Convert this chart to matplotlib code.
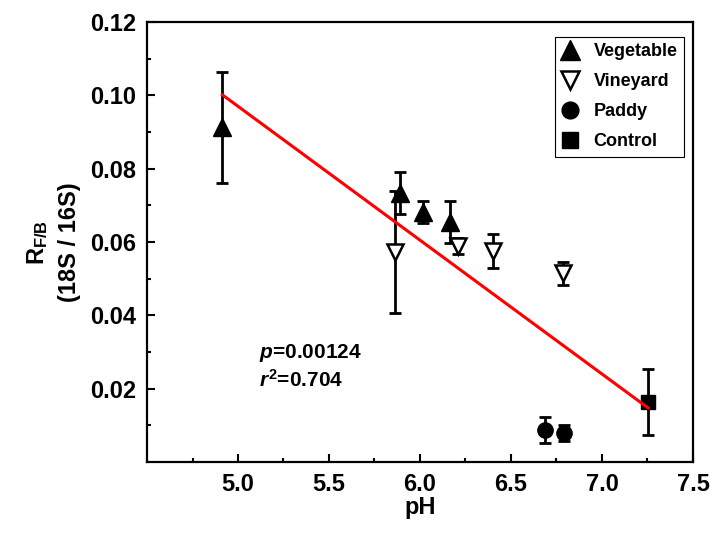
import numpy as np
import matplotlib
matplotlib.use('Agg')
import matplotlib.pyplot as plt

plt.rcParams['font.family'] = ['Liberation Sans', 'DejaVu Sans']
plt.rcParams['font.weight'] = 'bold'
plt.rcParams['mathtext.fontset'] = 'custom'
plt.rcParams['mathtext.rm'] = 'Liberation Sans:bold'
plt.rcParams['mathtext.bf'] = 'Liberation Sans:bold'
plt.rcParams['mathtext.it'] = 'Liberation Sans:bold:italic'
plt.rcParams['mathtext.default'] = 'bf'

# datos
veg_ph = [4.914, 5.89, 6.016, 6.165]
veg_r = [0.0913, 0.0734, 0.0682, 0.0655]
veg_err = [0.0151, 0.0058, 0.0031, 0.0057]

vin_ph = [5.863, 6.21, 6.40, 6.786]
vin_r = [0.0572, 0.0589, 0.0575, 0.0515]
vin_err = [0.0166, 0.0022, 0.0047, 0.0031]

pad_ph = [6.687, 6.79]
pad_r = [0.0087, 0.0079]
pad_err = [0.0035, 0.0023]

ctl_ph = [7.253]
ctl_r = [0.0164]
ctl_err = [0.0091]

# recta de ajuste
fit_x = [4.914, 7.253]
fit_slope = -0.0365
fit_intercept = 0.2795

fig = plt.figure(figsize=(7.15, 5.4), dpi=100)
ax = fig.add_axes([0.2056, 0.1444, 0.7636, 0.8149])

eb_kw = dict(fmt='none', ecolor='black', elinewidth=2, capsize=4, capthick=2)
ax.errorbar(veg_ph, veg_r, yerr=veg_err, **eb_kw)
ax.errorbar(vin_ph, vin_r, yerr=vin_err, **eb_kw)
ax.errorbar(pad_ph, pad_r, yerr=pad_err, **eb_kw)
ax.errorbar(ctl_ph, ctl_r, yerr=ctl_err, **eb_kw)

ax.plot(veg_ph, veg_r, '^', color='black', markersize=13, linestyle='none', label='Vegetable')
ax.plot(vin_ph, vin_r, 'v', markerfacecolor='white', markeredgecolor='black', markeredgewidth=1.8,
        markersize=12, linestyle='none', label='Vineyard')
ax.plot(pad_ph, pad_r, 'o', color='black', markersize=11, linestyle='none', label='Paddy')
ax.plot(ctl_ph, ctl_r, 's', color='black', markersize=10.5, linestyle='none', label='Control')

fx = np.array(fit_x)
ax.plot(fx, fit_slope * fx + fit_intercept, color='red', linewidth=2.2, zorder=5)

ax.text(5.115, 0.0297, r'$\mathit{p}$=0.00124', fontsize=15, fontweight='bold', va='center')
ax.text(5.115, 0.0224, r'$\mathit{r}^{\mathbf{2}}$=0.704', fontsize=15, fontweight='bold', va='center')

ax.set_xlim(4.5, 7.5)
ax.set_ylim(0, 0.12)
ax.set_xticks([5.0, 5.5, 6.0, 6.5, 7.0, 7.5])
ax.set_xticks(np.arange(4.75, 7.5, 0.5), minor=True)
ax.set_yticks([0.02, 0.04, 0.06, 0.08, 0.10, 0.12])
ax.set_yticks(np.arange(0.01, 0.12, 0.02), minor=True)
ax.set_xticklabels(['5.0', '5.5', '6.0', '6.5', '7.0', '7.5'])
ax.set_yticklabels(['0.02', '0.04', '0.06', '0.08', '0.10', '0.12'])
ax.tick_params(axis='both', which='major', direction='in', length=6, width=1.5,
               labelsize=17, pad=8)
ax.tick_params(axis='both', which='minor', direction='in', length=3, width=1.5)
for sp in ax.spines.values():
    sp.set_linewidth(1.6)

ax.set_xlabel('pH', fontsize=17, fontweight='bold', labelpad=0)
ax.set_ylabel('R$_{F/B}$\n(18S / 16S)', fontsize=17, fontweight='bold', labelpad=6,
              linespacing=1.45)

leg = ax.legend(loc='upper right', bbox_to_anchor=(0.983, 0.966), borderaxespad=0,
                fancybox=False, edgecolor='black', fontsize=13, handlelength=1.0,
                handletextpad=0.8, labelspacing=0.72, borderpad=0.35, framealpha=1,
                markerscale=1.1)
leg.get_frame().set_linewidth(0.8)
for t in leg.get_texts():
    t.set_fontweight('bold')

fig.savefig('out.png', dpi=100)
